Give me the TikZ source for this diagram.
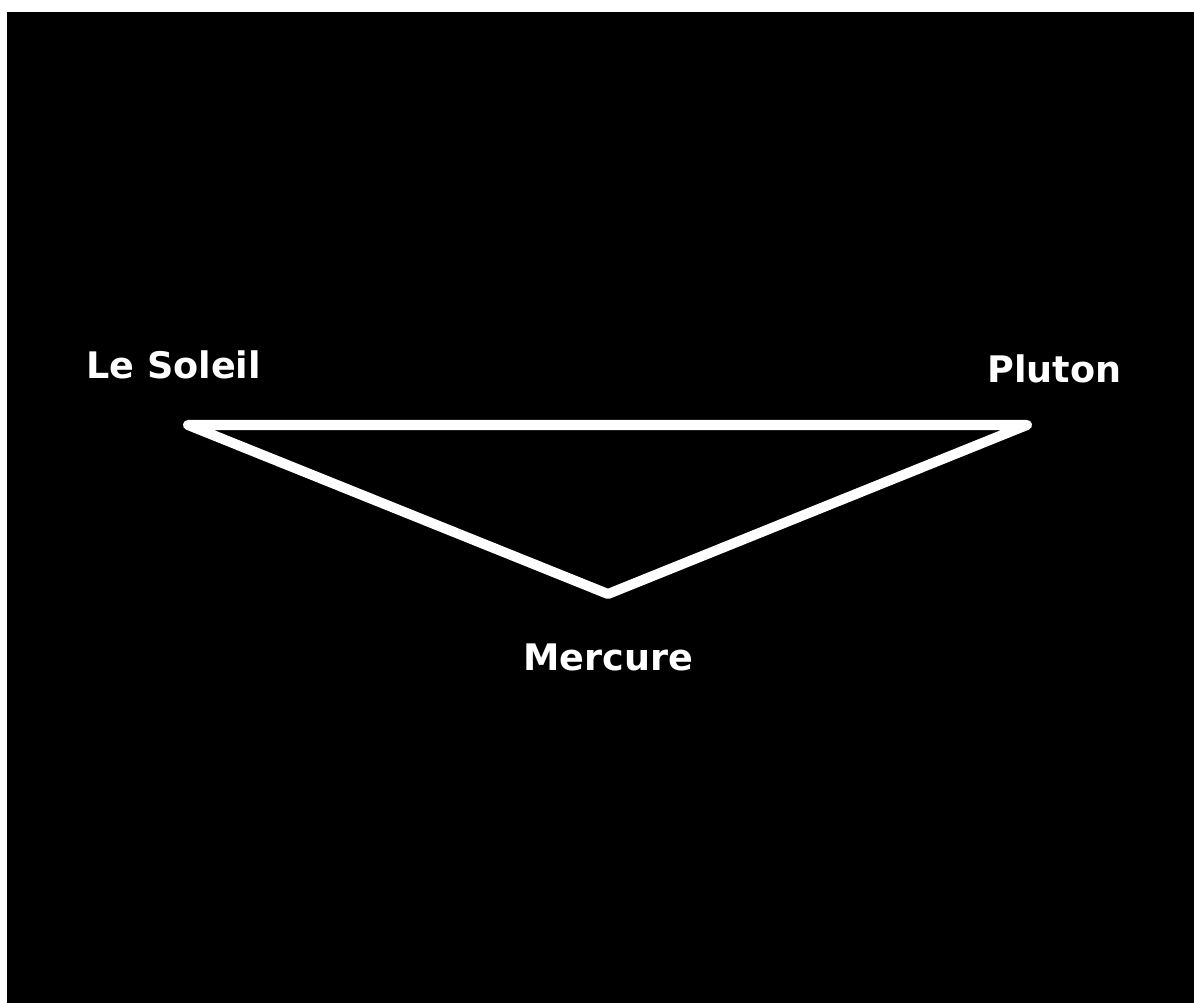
\documentclass[tikz,border=0pt]{standalone}
\usepackage{fontspec}
\setmainfont{DejaVu Sans}

\tikzset{
  planet/.style={text=white,inner sep=0pt,anchor=base west,
    font=\fontsize{26}{32}\selectfont\bfseries},
  orbit/.style={draw=white,line width=0.25cm,line join=round}
}

\begin{document}
\begin{tikzpicture}[x=0.025cm,y=-0.025cm]
\useasboundingbox (0,0) rectangle (1194,1003);
\fill[white] (0,0) rectangle (1194,1003);
\fill[black] (7,12) rectangle (1194,1003);

\coordinate (soleil) at (188,425);
\coordinate (pluton) at (1027,425);
\coordinate (mercure) at (608,594);

\draw[orbit] (soleil) -- (pluton) -- (mercure) -- cycle;

\node[planet] (lsoleil) at (86,378) {Le Soleil};
\node[planet] (lpluton) at (987,383) {Pluton};
\node[planet] (lmercure) at (523,670) {Mercure};
\end{tikzpicture}
\end{document}
